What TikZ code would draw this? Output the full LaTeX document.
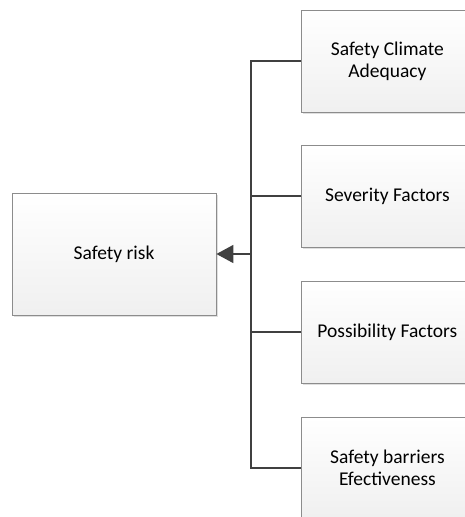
\documentclass[tikz,border=0pt]{standalone}
\usepackage{fontspec}
\setmainfont{Carlito}
\usetikzlibrary{shadows,arrows.meta}
\tikzset{
  boxstyle/.style={draw=gray!90, line width=0.8pt, top color=white, bottom color=gray!12,
    align=center, font=\fontsize{19.5}{22}\selectfont, inner sep=0pt,
    drop shadow={shadow xshift=2pt, shadow yshift=-2pt, opacity=0.25, fill=gray}},
  conn/.style={draw=black!75, line width=1.6pt},
}
\begin{document}
\begin{tikzpicture}[x=1pt,y=-1pt]
\useasboundingbox (0,0) rectangle (465,517);
\node[boxstyle, minimum width=204pt, minimum height=122pt] (risk) at (114,254) {Safety risk};
\node[boxstyle, minimum width=172pt, minimum height=102pt, anchor=west] (b1) at (301,61) {Safety Climate\\Adequacy};
\node[boxstyle, minimum width=172pt, minimum height=102pt, anchor=west] (b2) at (301,196) {Severity Factors};
\node[boxstyle, minimum width=172pt, minimum height=102pt, anchor=west] (b3) at (301,332) {Possibility Factors};
\node[boxstyle, minimum width=172pt, minimum height=102pt, anchor=west] (b4) at (301,468) {Safety barriers\\Efectiveness};
\coordinate (top) at (251,61);
\coordinate (bot) at (251,468);
\coordinate (mid) at (251,254);
\draw[conn] (b1.west) -- (top) -- (bot) -- (b4.west);
\draw[conn] (b2.west) -- (b2.west -| top);
\draw[conn] (b3.west) -- (b3.west -| top);
\draw[conn, -{Triangle[length=17pt,width=18pt]}] (mid) -- (risk.east);
\end{tikzpicture}
\end{document}
